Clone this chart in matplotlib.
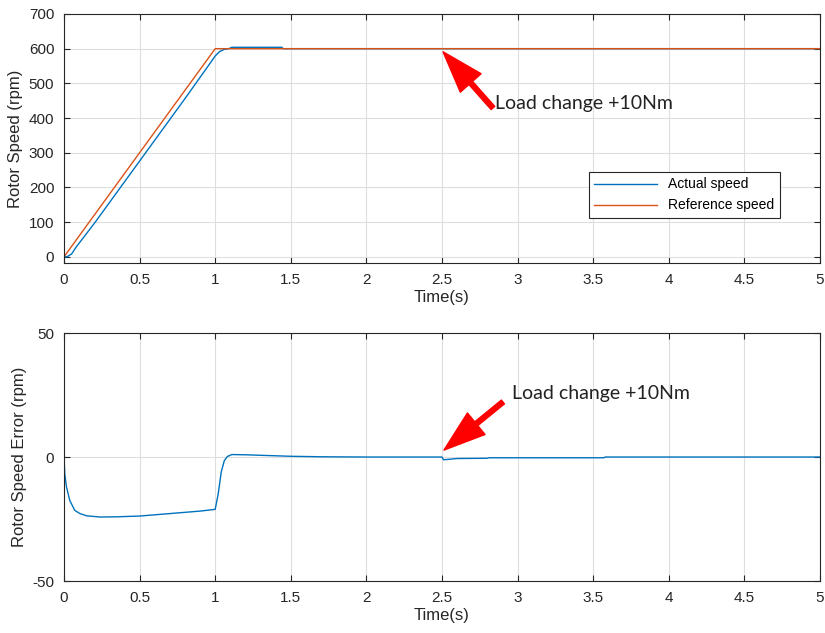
import matplotlib
matplotlib.use("Agg")
import matplotlib.pyplot as plt

# reference speed (ramp then hold)
ref_t = [0, 1.0, 5.0]
ref_speed = [0, 600, 600]

# actual speed
act_t = [0, 0.02, 0.05, 0.082, 0.2, 0.5, 0.8, 0.95, 1.0, 1.03, 1.06, 1.09, 1.11, 1.44, 1.45, 5.0]
act_speed = [0, 0, 8, 29, 96, 276, 456, 548, 579, 592, 598, 600, 604, 604, 600, 600]

# speed error
err_t = [0, 0.005, 0.016, 0.038, 0.071, 0.105, 0.15, 0.24, 0.35, 0.5, 0.7, 0.9, 1.0,
         1.02, 1.04, 1.06, 1.08, 1.11, 1.2, 1.3, 1.5, 1.7, 2.0, 2.5, 2.51, 2.55, 2.6,
         2.8, 2.81, 3.57, 3.58, 5.0]
err = [0, -6.7, -12, -17.5, -21.5, -22.8, -23.7, -24.2, -24.1, -23.8, -22.8, -21.8, -21.1,
       -14.8, -6, -1.5, 0.2, 1.0, 0.9, 0.7, 0.3, 0.1, 0, 0, -1.1, -0.9, -0.6,
       -0.5, -0.3, -0.3, 0, 0]

xticks = [0, 0.5, 1, 1.5, 2, 2.5, 3, 3.5, 4, 4.5, 5]
xticklabels = ['0', '0.5', '1', '1.5', '2', '2.5', '3', '3.5', '4', '4.5', '5']

blue = '#0072BD'
orange = '#D95319'

plt.rcParams['font.family'] = ['Liberation Sans', 'DejaVu Sans']
plt.rcParams['axes.unicode_minus'] = False

fig = plt.figure(figsize=(8.25, 6.33), dpi=100)
ax1 = fig.add_axes([0.0776, 0.5845, 0.9163, 0.3934])
ax2 = fig.add_axes([0.0776, 0.0821, 0.9163, 0.3918])

for ax in (ax1, ax2):
    ax.set_xlim(0, 5)
    ax.set_xticks(xticks)
    ax.set_xticklabels(xticklabels)
    ax.grid(True, color='#dedede', linewidth=0.8)
    ax.set_axisbelow(True)
    ax.tick_params(labelsize=11, colors='#262626', direction='in', length=4,
                   top=True, right=True, pad=7)
    for s in ax.spines.values():
        s.set_color('#262626')
        s.set_linewidth(0.8)
    ax.set_xlabel('Time(s)', fontsize=12, color='#262626', labelpad=2)

ax1.plot(act_t, act_speed, color=blue, linewidth=1.0, label='Actual speed')
ax1.plot(ref_t, ref_speed, color=orange, linewidth=1.0, label='Reference speed')
ax1.set_ylim(-18, 700)
ax1.set_yticks(range(0, 701, 100))
ax1.set_ylabel('Rotor Speed (rpm)', fontsize=12, color='#262626')
leg = ax1.legend(loc='lower right', bbox_to_anchor=(0.956, 0.153), fontsize=10,
                 fancybox=False, edgecolor='#262626', framealpha=1, handlelength=4.5)
leg.get_frame().set_linewidth(0.8)

arrow = dict(facecolor='#ff0000', edgecolor='#ff0000', width=3.5,
             headwidth=20, headlength=30, shrink=0)
label_font = dict(fontsize=14, family=['Lato', 'DejaVu Sans'], color='#222222', va='center')

ax1.annotate('', xy=(2.507, 591), xytext=(2.837, 429), arrowprops=arrow)
ax1.text(2.85, 442, 'Load change +10Nm', **label_font)

ax2.plot(err_t, err, color=blue, linewidth=1.0)
ax2.set_ylim(-50, 50)
ax2.set_yticks([-50, 0, 50])
ax2.set_ylabel('Rotor Speed Error (rpm)', fontsize=12, color='#262626')

ax2.annotate('', xy=(2.513, 2.8), xytext=(2.903, 22.2), arrowprops=arrow)
ax2.text(2.96, 25.5, 'Load change +10Nm', **label_font)

fig.savefig('out.png', dpi=100)
